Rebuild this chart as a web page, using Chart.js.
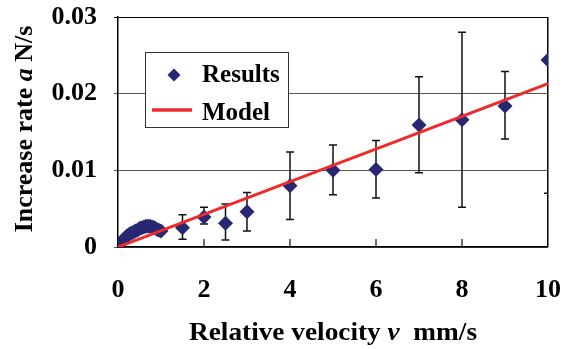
<!DOCTYPE html>
<html>
<head>
<meta charset="utf-8">
<script src="https://cdn.jsdelivr.net/npm/chart.js@4.4.1/dist/chart.umd.min.js"></script>
<style>
  html, body { margin: 0; padding: 0; background: #fff; }
  #wrap { width: 563px; height: 349px; }
</style>
</head>
<body>
<div id="wrap"><canvas id="chart"></canvas></div>
<script>
// Measured points below 1 mm/s (dense run)
const slowVelocity = [0, 0.05, 0.1, 0.15, 0.2, 0.25, 0.3, 0.35, 0.4, 0.45, 0.5, 0.55, 0.6, 0.65, 0.7, 0.75, 0.8, 0.85, 0.9, 0.95, 1.0]
const slowRate = [0, 0.0004, 0.0008, 0.0011, 0.0014, 0.0016, 0.0018, 0.0019, 0.0021, 0.0022, 0.0024, 0.0025, 0.0026, 0.0027, 0.0027, 0.0027, 0.0026, 0.0025, 0.0023, 0.0022, 0.0021]

// Averaged points with spread
const velocity = [1.5, 2, 2.5, 3, 4, 5, 6, 7, 8, 9, 10]
const rate = [0.0025, 0.0039, 0.0031, 0.0046, 0.0080, 0.0100, 0.0101, 0.0159, 0.0166, 0.0184, 0.0244]
const rateHigh = [0.0042, 0.0052, 0.0056, 0.0071, 0.0124, 0.0133, 0.0139, 0.0222, 0.0280, 0.0229, 0.0418]
const rateLow = [0.0010, 0.0030, 0.0009, 0.0021, 0.0036, 0.0068, 0.0064, 0.0097, 0.0052, 0.0141, 0.0070]

// Linear model
const modelVelocity = [0, 10]
const modelRate = [0, 0.0213]

const xTicks = [0, 2, 4, 6, 8, 10]
const yTicks = [0, 0.01, 0.02, 0.03]

const SERIF = "'Liberation Serif', 'Times New Roman', serif"
const NAVY = "#272772"
const RED = "#ee2b2b"

const results = slowVelocity.map((v, i) => ({ x: v, y: slowRate[i] }))
    .concat(velocity.map((v, i) => ({ x: v, y: rate[i] })))
const model = modelVelocity.map((v, i) => ({ x: v, y: modelRate[i] }))

// Error bars, clipped to the plot
const errorBars = {
    id: "errorBars",
    beforeDatasetsDraw(chart) {
        const { ctx, chartArea, scales: { x, y } } = chart
        ctx.save()
        ctx.beginPath()
        ctx.rect(chartArea.left, chartArea.top, chartArea.right - chartArea.left, chartArea.bottom - chartArea.top)
        ctx.clip()
        ctx.strokeStyle = "#111"
        ctx.lineWidth = 1.5
        velocity.forEach((v, i) => {
            const px = x.getPixelForValue(v)
            const hi = y.getPixelForValue(rateHigh[i])
            const lo = y.getPixelForValue(rateLow[i])
            ctx.beginPath()
            ctx.moveTo(px, hi); ctx.lineTo(px, lo)
            ctx.moveTo(px - 4, hi); ctx.lineTo(px + 4, hi)
            ctx.moveTo(px - 4, lo); ctx.lineTo(px + 4, lo)
            ctx.stroke()
        })
        ctx.restore()
    }
}

// Inner x ticks, axis titles and the boxed legend
const decorations = {
    id: "decorations",
    afterDraw(chart) {
        const { ctx, chartArea, scales: { x } } = chart
        ctx.save()

        ctx.strokeStyle = "#111"
        ctx.lineWidth = 1.2
        xTicks.slice(1, -1).forEach(v => {
            const px = x.getPixelForValue(v)
            ctx.beginPath()
            ctx.moveTo(px, chartArea.bottom)
            ctx.lineTo(px, chartArea.bottom - 8)
            ctx.stroke()
        })

        ctx.fillStyle = "#000"
        ctx.textBaseline = "alphabetic"
        const bold = `bold 26px ${SERIF}`
        const italic = `italic bold 26px ${SERIF}`

        const drawParts = (parts, startX, baseY) => {
            let cx = startX
            parts.forEach(([text, font]) => {
                ctx.font = font
                ctx.fillText(text, cx, baseY)
                cx += ctx.measureText(text).width
            })
        }
        const partsWidth = parts => parts.reduce((w, [text, font]) => {
            ctx.font = font
            return w + ctx.measureText(text).width
        }, 0)

        // x title, a touch wider than the plain font
        const xParts = [["Relative velocity ", bold], ["v", italic], ["  mm/s", bold]]
        const cxMid = (chartArea.left + chartArea.right) / 2
        ctx.save()
        ctx.translate(cxMid, 340)
        ctx.scale(1.05, 1)
        drawParts(xParts, -partsWidth(xParts) / 2, 0)
        ctx.restore()

        // y title
        const yParts = [["Increase rate ", bold], ["a", italic], [" N/s", bold]]
        ctx.save()
        ctx.translate(32, 129)
        ctx.rotate(-Math.PI / 2)
        drawParts(yParts, -partsWidth(yParts) / 2, 0)
        ctx.restore()

        // legend
        const lx = 145, ly = 52, lw = 143, lh = 75
        ctx.fillStyle = "#fff"
        ctx.fillRect(lx, ly, lw, lh)
        ctx.strokeStyle = "#333"
        ctx.lineWidth = 1
        ctx.strokeRect(lx + 0.5, ly + 0.5, lw, lh)

        ctx.fillStyle = NAVY
        ctx.beginPath()
        ctx.moveTo(174, 75 - 6.5); ctx.lineTo(174 + 6.5, 75)
        ctx.lineTo(174, 75 + 6.5); ctx.lineTo(174 - 6.5, 75)
        ctx.closePath()
        ctx.fill()

        ctx.strokeStyle = RED
        ctx.lineWidth = 3.5
        ctx.beginPath()
        ctx.moveTo(152, 110); ctx.lineTo(192, 110)
        ctx.stroke()

        ctx.fillStyle = "#000"
        ctx.font = `bold 25px ${SERIF}`
        ctx.fillText("Results", 202, 82)
        ctx.fillText("Model", 202, 120)

        ctx.restore()
    }
}

new Chart(document.getElementById("chart"), {
    type: "scatter",
    data: {
        datasets: [
            {
                label: "Model",
                type: "line",
                data: model,
                borderColor: RED,
                borderWidth: 3,
                pointRadius: 0,
                order: 0
            },
            {
                label: "Results",
                data: results,
                pointStyle: "rectRot",
                pointRadius: 7.5,
                pointHoverRadius: 7.5,
                backgroundColor: NAVY,
                borderWidth: 0,
                order: 1
            }
        ]
    },
    options: {
        responsive: true,
        maintainAspectRatio: false,
        animation: false,
        layout: { padding: { top: 17, right: 15, left: 0, bottom: 0 } },
        plugins: {
            legend: { display: false },
            tooltip: { enabled: false }
        },
        scales: {
            x: {
                type: "linear",
                min: 0,
                max: 10,
                afterFit: s => {
                    s.height = 102
                    s.paddingLeft = 0
                    s.paddingRight = 0
                },
                afterBuildTicks: s => { s.ticks = xTicks.map(v => ({ value: v })) },
                ticks: {
                    color: "#000",
                    padding: 28,
                    font: { family: SERIF, size: 26, weight: "bold" }
                },
                grid: {
                    drawTicks: false,
                    color: c => c.tick && c.tick.value === 10 ? "#000" : "rgba(0,0,0,0)",
                    lineWidth: 1.5
                },
                border: { color: "#000", width: 1.5 }
            },
            y: {
                min: 0,
                max: 0.03,
                afterFit: s => {
                    s.width = 118
                    s.paddingTop = 0
                    s.paddingBottom = 0
                },
                afterBuildTicks: s => { s.ticks = yTicks.map(v => ({ value: v })) },
                ticks: {
                    color: "#000",
                    padding: 17,
                    font: { family: SERIF, size: 26, weight: "bold" },
                    callback: v => v === 0 ? "0" : v.toFixed(2)
                },
                grid: {
                    tickLength: 4,
                    color: c => c.tick && c.tick.value === 0.03 ? "#000" : "#555",
                    lineWidth: 1
                },
                border: { color: "#000", width: 1.5 }
            }
        }
    },
    plugins: [errorBars, decorations]
})
</script>
</body>
</html>
